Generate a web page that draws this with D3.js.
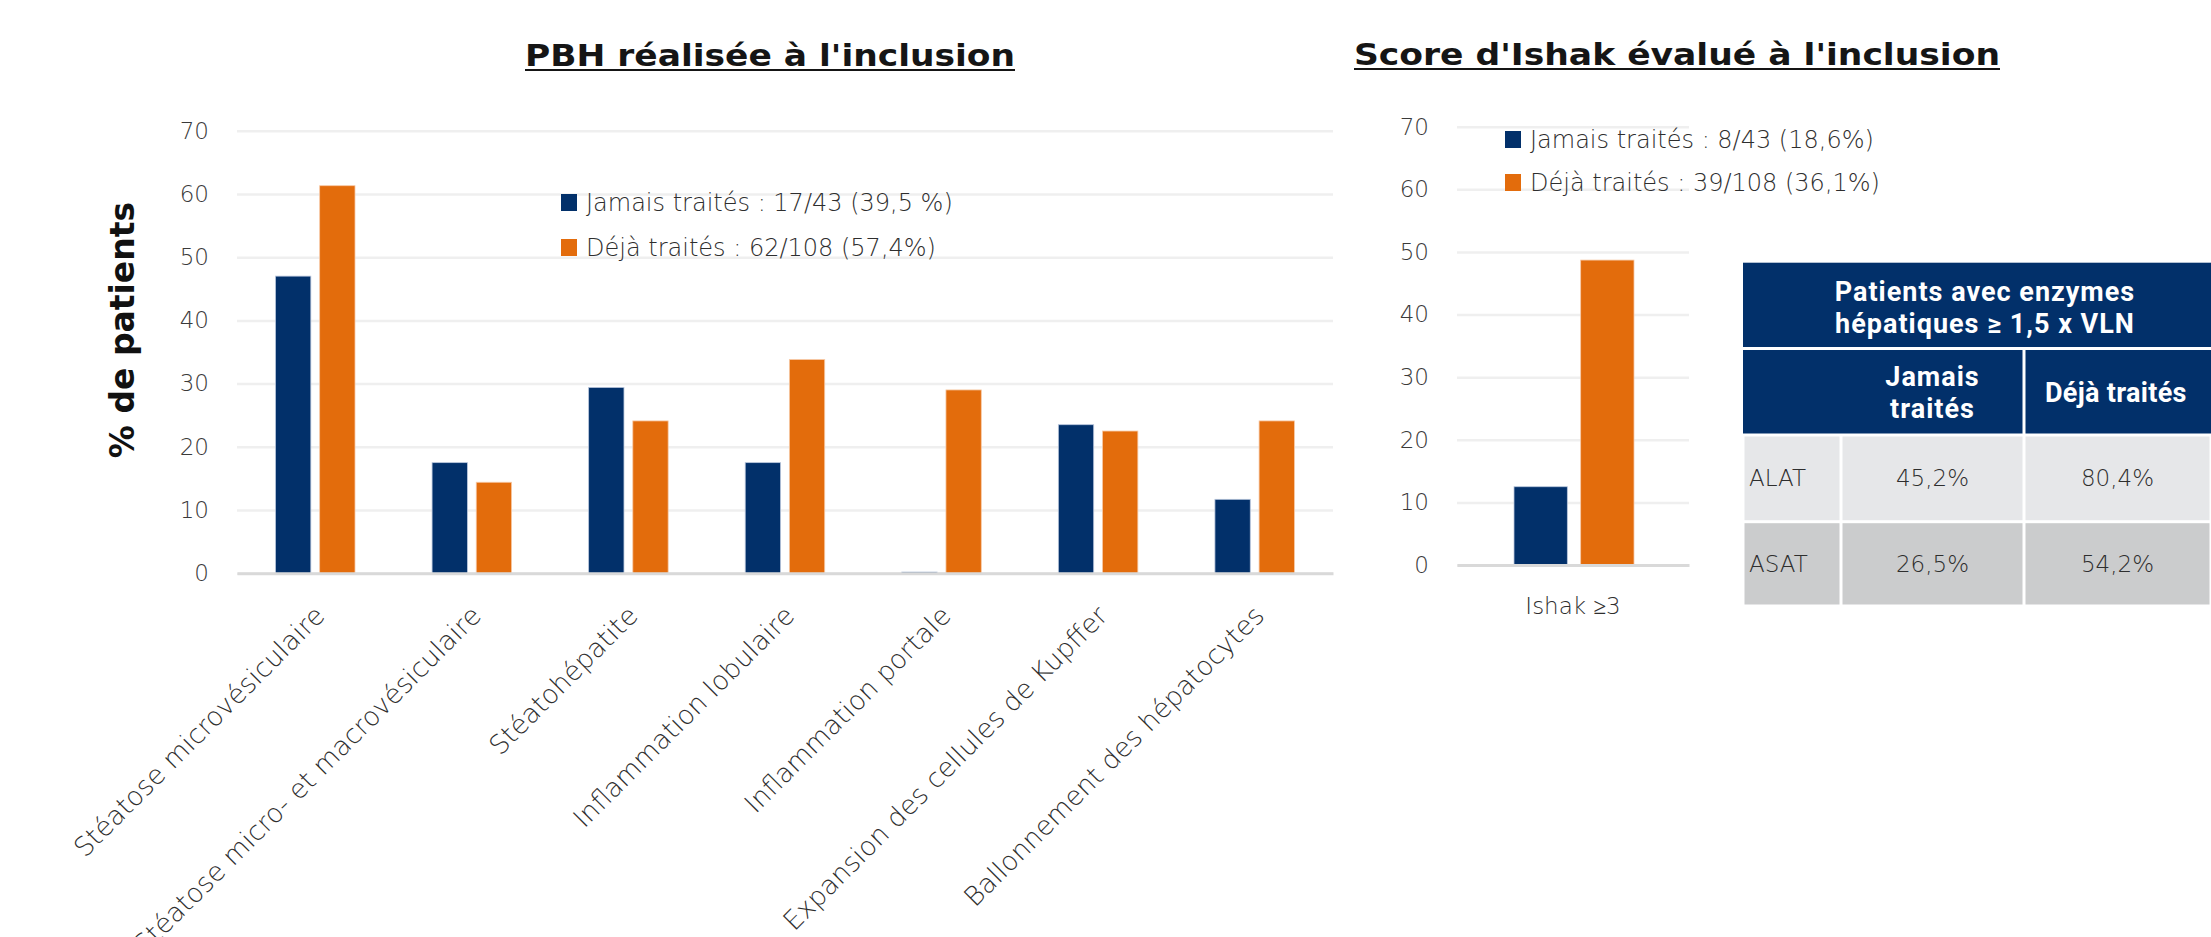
<!DOCTYPE html>
<html>
<head>
<meta charset="utf-8">
<script src="https://cdn.jsdelivr.net/npm/d3@7"></script>
<style>
  html, body { margin: 0; padding: 0; background: #ffffff; }
  svg { display: block; }
</style>
</head>
<body>
<svg id="chart" width="2211" height="937"></svg>
<script>
// ---------- DATA ----------
const categories = [
  "Stéatose microvésiculaire",
  "Stéatose micro- et macrovésiculaire",
  "Stéatohépatite",
  "Inflammation lobulaire",
  "Inflammation portale",
  "Expansion des cellules de Kupffer",
  "Ballonnement des hépatocytes"
];
const seriesNames = ["Jamais traités", "Déjà traités"];
const neverTreated   = [47.0, 17.5, 29.4, 17.5, 0.2, 23.5, 11.7];
const alreadyTreated = [61.3, 14.4, 24.1, 33.8, 29.0, 22.5, 24.1];
const yTicks = [0, 10, 20, 30, 40, 50, 60, 70];
const legendLeft  = ["Jamais traités : 17/43 (39,5 %)", "Déjà traités : 62/108 (57,4%)"];

const ishakCategories = ["Ishak ≥3"];
const ishakNever   = [12.5];
const ishakAlready = [48.7];
const legendRight = ["Jamais traités : 8/43 (18,6%)", "Déjà traités : 39/108 (36,1%)"];

const titleLeft  = "PBH réalisée à l'inclusion";
const titleRight = "Score d'Ishak évalué à l'inclusion";
const yLabel = "% de patients";

const tableTitle = ["Patients avec enzymes", "hépatiques ≥ 1,5 x VLN"];
const tableColHeads = [["Jamais", "traités"], ["Déjà traités"]];
const tableRows = ["ALAT", "ASAT"];
const tableNever   = ["45,2%", "26,5%"];
const tableAlready = ["80,4%", "54,2%"];

// ---------- STYLE ----------
const NAVY = "#02306a";
const ORANGE = "#e36c0c";
const colors = [NAVY, ORANGE];
const LIGHT = "DejaVu Sans";
const svg = d3.select("#chart");

function drawBarChart(opts) {
  const { x0r, y0, y70, cats, vals, innerRange, legend, legendPos } = opts;
  const g = svg.append("g");
  const y = d3.scaleLinear().domain([0, 70]).range([y0, y70]);
  const x = d3.scaleBand().domain(cats).range(x0r).padding(0);
  const x1 = d3.scaleBand().domain(seriesNames).range(innerRange).paddingInner(0.2).paddingOuter(0);

  // gridlines + tick labels
  const yAxis = d3.axisLeft(y).tickValues(yTicks).tickSize(-(x0r[1] - x0r[0])).tickPadding(28);
  const ga = g.append("g").attr("transform", `translate(${x0r[0]},0)`).call(yAxis);
  ga.select(".domain").remove();
  ga.selectAll(".tick line").attr("stroke", "#efefef").attr("stroke-width", 2.5);
  ga.selectAll(".tick text")
    .attr("font-family", LIGHT).attr("font-weight", 200).attr("font-size", 23)
    .attr("fill", "#3a3a3a");

  // bars
  const rows = cats.map((c, i) => ({ cat: c, values: vals.map(v => v[i]) }));
  const grp = g.selectAll(".grp").data(rows).join("g")
    .attr("transform", d => `translate(${x(d.cat)},0)`);
  grp.selectAll("rect").data(d => d.values.map((v, k) => ({ k, v }))).join("rect")
    .attr("x", d => x1(seriesNames[d.k]))
    .attr("width", x1.bandwidth())
    .attr("y", d => y(d.v))
    .attr("height", d => y(0) - y(d.v))
    .attr("fill", d => colors[d.k])
    .attr("stroke", d => d.k === 0 ? "#b9c6dc" : "#f7c9a6")
    .attr("stroke-width", 0.8);

  // baseline axis
  const xAxis = d3.axisBottom(x).tickSize(0);
  const gx = g.append("g").attr("transform", `translate(0,${y0})`).call(xAxis);
  gx.select(".domain").attr("stroke", "#d9d9d9").attr("stroke-width", 3);
  gx.selectAll(".tick line").remove();
  opts.labelFn(gx.selectAll(".tick text"));

  // legend
  legend.forEach((t, i) => {
    const ly = legendPos.y + i * legendPos.dy;
    g.append("rect").attr("x", legendPos.x).attr("y", ly).attr("width", 16).attr("height", 17).attr("fill", colors[i]);
    g.append("text").attr("x", legendPos.x + 25).attr("y", ly + 17)
      .attr("font-family", LIGHT).attr("font-weight", 200).attr("font-size", 24)
      .attr("fill", "#2e2e2e").text(t);
  });
}

// ---------- LEFT CHART ----------
drawBarChart({
  x0r: [237, 1333], y0: 573.3, y70: 130.7,
  cats: categories, vals: [neverTreated, alreadyTreated],
  innerRange: [38.5, 118],
  legend: legendLeft, legendPos: { x: 561, y: 194, dy: 45 },
  labelFn: sel => sel
    .attr("x", 0).attr("y", 0).attr("dy", 0)
    .attr("transform", "translate(11,44) rotate(-45)")
    .attr("text-anchor", "end")
    .attr("font-family", LIGHT).attr("font-weight", 200).attr("font-size", 26.5)
    .attr("fill", "#2e2e2e")
});

// ---------- RIGHT CHART ----------
drawBarChart({
  x0r: [1457, 1689], y0: 565, y70: 126.7,
  cats: ishakCategories, vals: [ishakNever, ishakAlready],
  innerRange: [57, 177],
  legend: legendRight, legendPos: { x: 1505, y: 131, dy: 43 },
  labelFn: sel => sel
    .attr("y", 0).attr("dy", 0)
    .attr("transform", "translate(0,49)")
    .attr("text-anchor", "middle")
    .attr("font-family", LIGHT).attr("font-weight", 200).attr("font-size", 23)
    .attr("fill", "#2e2e2e")
});

// ---------- Y LABEL ----------
svg.append("text")
  .attr("transform", "translate(134,330) rotate(-90)")
  .attr("text-anchor", "middle")
  .attr("font-family", "DejaVu Sans").attr("font-weight", 700).attr("font-size", 33)
  .attr("fill", "#111").text(yLabel);

// ---------- TITLES ----------
function title(txt, x1, x2, yb) {
  svg.append("text").attr("x", x1).attr("y", yb)
    .attr("textLength", x2 - x1).attr("lengthAdjust", "spacingAndGlyphs")
    .attr("font-family", "DejaVu Sans").attr("font-weight", 700).attr("font-size", 30)
    .attr("fill", "#151515").text(txt);
  svg.append("line").attr("x1", x1).attr("x2", x2).attr("y1", yb + 4).attr("y2", yb + 4)
    .attr("stroke", "#151515").attr("stroke-width", 2.2);
}
title(titleLeft, 525, 1015, 66);
title(titleRight, 1354, 2000, 65);

// ---------- TABLE ----------
const T = svg.append("g");
const colX = [1743, 1841, 2024, 2211];
const rowY = [262.7, 348.5, 435, 521.7, 606];
const HEAD = "#02306a";
const font2 = "Roboto";
const hdrSize = 27, hdrLs = 1.0;
// header row 1
T.append("rect").attr("x", colX[0]).attr("y", rowY[0]).attr("width", colX[3] - colX[0]).attr("height", rowY[1] - rowY[0] - 1.5).attr("fill", HEAD);
tableTitle.forEach((t, i) => {
  T.append("text").attr("x", 1985).attr("y", 301 + i * 31.6)
    .attr("text-anchor", "middle").attr("font-family", font2).attr("font-weight", 700)
    .attr("font-size", hdrSize).attr("letter-spacing", hdrLs).attr("fill", "#fff").text(t);
});
// header row 2
T.append("rect").attr("x", colX[0]).attr("y", rowY[1] + 1.5).attr("width", colX[2] - colX[0] - 1.5).attr("height", rowY[2] - rowY[1] - 3).attr("fill", HEAD);
T.append("rect").attr("x", colX[2] + 1.5).attr("y", rowY[1] + 1.5).attr("width", colX[3] - colX[2]).attr("height", rowY[2] - rowY[1] - 3).attr("fill", HEAD);
tableColHeads[0].forEach((t, i) => {
  T.append("text").attr("x", (colX[1] + colX[2]) / 2).attr("y", 386 + i * 31.6)
    .attr("text-anchor", "middle").attr("font-family", font2).attr("font-weight", 700)
    .attr("font-size", hdrSize).attr("letter-spacing", hdrLs).attr("fill", "#fff").text(t);
});
T.append("text").attr("x", 2045).attr("y", 402)
  .attr("text-anchor", "start").attr("font-family", font2).attr("font-weight", 700)
  .attr("font-size", hdrSize).attr("letter-spacing", 0.3).attr("fill", "#fff").text(tableColHeads[1][0]);
// data rows
const rowFill = ["#e6e7e9", "#cbcccd"];
tableRows.forEach((r, i) => {
  const y1 = rowY[2 + i] + 1.5, h = rowY[3 + i] - rowY[2 + i] - 3;
  const cells = [r, tableNever[i], tableAlready[i]];
  cells.forEach((c, j) => {
    T.append("rect").attr("x", colX[j] + 1.5).attr("y", y1).attr("width", colX[j + 1] - colX[j] - 3).attr("height", h).attr("fill", rowFill[i]);
    T.append("text")
      .attr("x", j === 0 ? colX[0] + 6 : (colX[j] + colX[j + 1]) / 2)
      .attr("y", y1 + h / 2 + 8)
      .attr("text-anchor", j === 0 ? "start" : "middle")
      .attr("font-family", LIGHT).attr("font-weight", 200).attr("font-size", 23)
      .attr("fill", "#2e2e2e").text(c);
  });
});
</script>
</body>
</html>
